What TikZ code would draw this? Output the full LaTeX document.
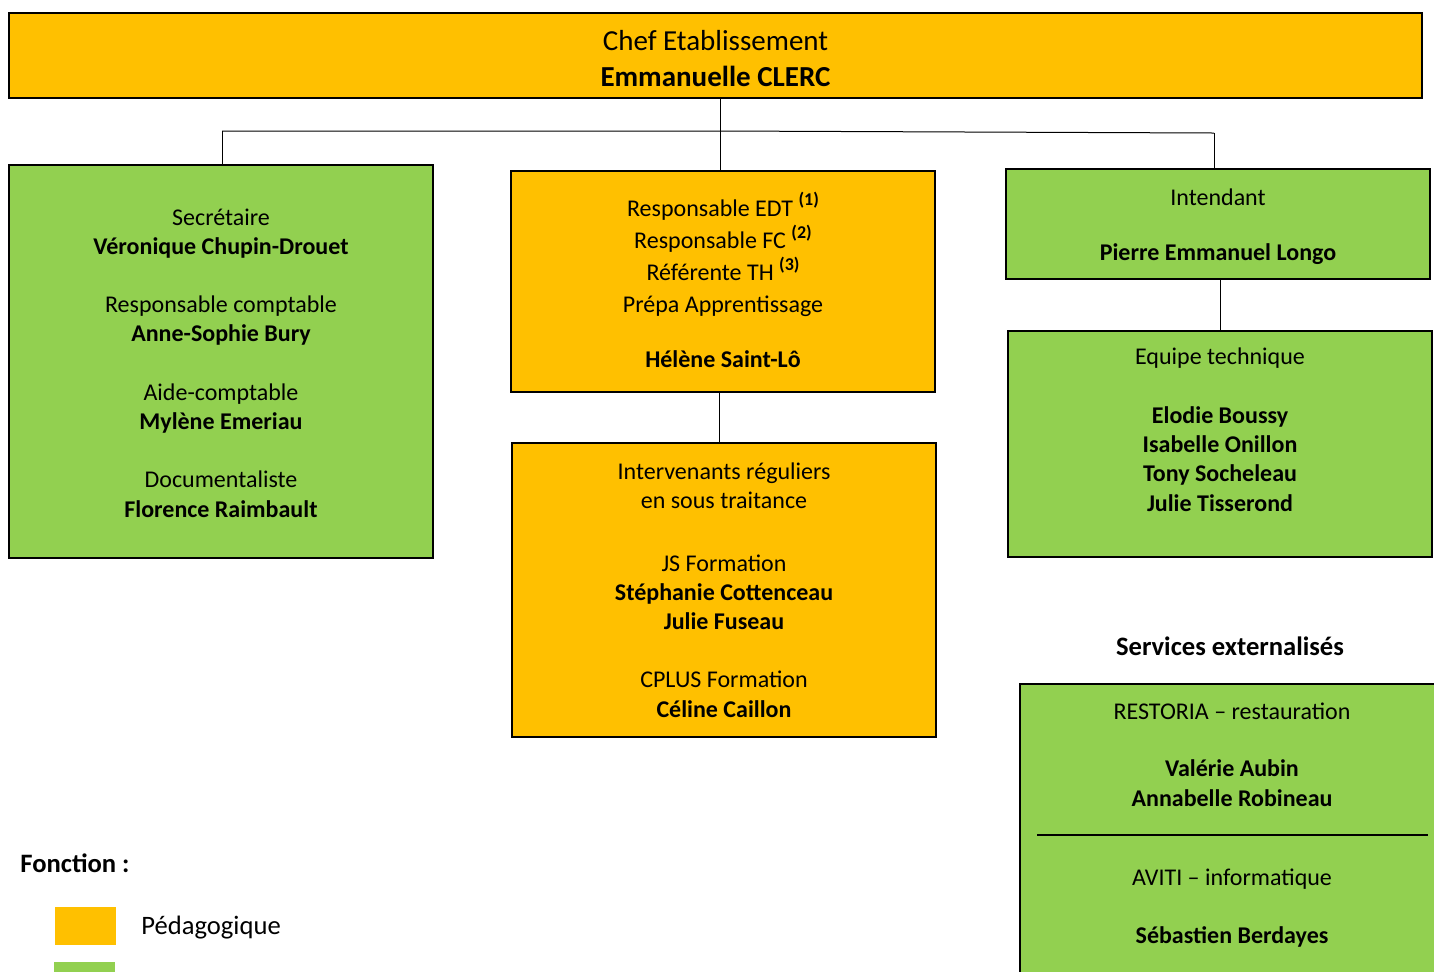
\documentclass[tikz,border=0pt]{standalone}
\usepackage{fontspec}
\setmainfont{Carlito}
\definecolor{orgfill}{HTML}{FFC000}
\definecolor{grnfill}{HTML}{92D050}
\newcommand{\supnum}[1]{\smash{\raisebox{0.9ex}{\fontsize{9}{10}\selectfont\bfseries(#1)}}}
\tikzset{
  orgbox/.style={draw=black, line width=0.75pt, fill=orgfill, inner sep=0pt, outer sep=0pt},
  grnbox/.style={draw=black, line width=0.75pt, fill=grnfill, inner sep=0pt, outer sep=0pt},
  txt/.style={align=center, anchor=base, inner sep=0pt, font=\fontsize{12}{14.6}\selectfont},
  bigtxt/.style={align=center, anchor=base, inner sep=0pt, font=\fontsize{14.5}{18}\selectfont},
  legtxt/.style={anchor=base west, inner sep=0pt, font=\fontsize{13.3}{16}\selectfont},
  link/.style={draw=black, line width=0.5pt},
}
\begin{document}
\begin{tikzpicture}[x=0.5pt, y=-0.5pt]
\useasboundingbox (0,0) rectangle (1434,971);
\clip (0,0) rectangle (1434,971);
% boxes
\node[orgbox, minimum width=706.5pt, minimum height=42.5pt] (T) at (715.5,55.5) {};
\node[grnbox, minimum width=212pt, minimum height=196.5pt] (L) at (221,361.5) {};
\node[orgbox, minimum width=212pt, minimum height=110.5pt] (M1) at (723,281.5) {};
\node[orgbox, minimum width=212pt, minimum height=147pt] (M2) at (724,590) {};
\node[grnbox, minimum width=212pt, minimum height=55pt] (R1) at (1218,224) {};
\node[grnbox, minimum width=212pt, minimum height=113pt] (R2) at (1220,444) {};
\node[grnbox, minimum width=213pt, minimum height=158pt] (S) at (1233,842) {};
% connectors
\coordinate (jc) at (720,131);
\coordinate (jl) at (222,131);
\coordinate (jr) at (1214,133);
\draw[link] (T.south -| jc) -- (jc);
\draw[link] (jl) -- (jc) -- (jr);
\draw[link] (jl) -- (jl |- L.north);
\draw[link] (jc) -- (jc |- M1.north);
\draw[link] (jr) -- (jr |- R1.north);
\coordinate (mx) at (719,0);
\draw[link] (mx |- M1.south) -- (mx |- M2.north);
\coordinate (rx) at (1220,0);
\draw[link] (rx |- R1.south) -- (rx |- R2.north);
% separator in services box
\coordinate (sepl) at (1037,835);
\coordinate (sepr) at (1428,835);
\draw[line width=1pt] (sepl) -- (sepr);
% texts (base anchor = baseline of last line)
\node[bigtxt] (tT) at (715.5,86) {Chef Etablissement\\\textbf{Emmanuelle CLERC}};
\node[txt] (tL) at (221,517) {Secrétaire\\\textbf{Véronique Chupin-Drouet}\\[14.6pt]
Responsable comptable\\\textbf{Anne-Sophie Bury}\\[14.6pt]
Aide-comptable\\\textbf{Mylène Emeriau}\\[14.6pt]
Documentaliste\\\textbf{Florence Raimbault}};
\node[txt] (tM1) at (723,367) {Responsable EDT \supnum{1}\\[1.7pt]
Responsable FC \supnum{2}\\[1.4pt]
Référente TH \supnum{3}\\[1pt]
Prépa Apprentissage\\[12.9pt]
\textbf{Hélène Saint-Lô}};
\node[txt] (tM2) at (724,717) {Intervenants réguliers\\en sous traitance\\[16.9pt]
JS Formation\\\textbf{Stéphanie Cottenceau}\\\textbf{Julie Fuseau}\\[14.4pt]
CPLUS Formation\\\textbf{Céline Caillon}};
\node[txt] (tR1) at (1218,260) {Intendant\\[12.9pt]\textbf{Pierre Emmanuel Longo}};
\node[txt] (tR2) at (1220,511) {Equipe technique\\[14.9pt]
\textbf{Elodie Boussy}\\\textbf{Isabelle Onillon}\\\textbf{Tony Socheleau}\\\textbf{Julie Tisserond}};
\node[txt, font=\fontsize{13.3}{16}\selectfont\bfseries] (tSx) at (1230,655) {Services externalisés};
\node[txt] (tS1) at (1232,806) {RESTORIA – restauration\\[13.9pt]
\textbf{Valérie Aubin}\\\textbf{Annabelle Robineau}};
\node[txt] (tS2) at (1232,943) {AVITI – informatique\\[14.4pt]
\textbf{Sébastien Berdayes}};
% legend
\node[legtxt, font=\fontsize{13.3}{16}\selectfont\bfseries] (tF) at (20,872) {Fonction :};
\node[fill=orgfill, inner sep=0pt, minimum width=30.5pt, minimum height=19pt] (lgO) at (85.5,926) {};
\node[legtxt] (tP) at (141,934) {Pédagogique};
\node[fill=grnfill, inner sep=0pt, minimum width=30.5pt, minimum height=10pt] (lgG) at (84.5,972) {};
\end{tikzpicture}
\end{document}
